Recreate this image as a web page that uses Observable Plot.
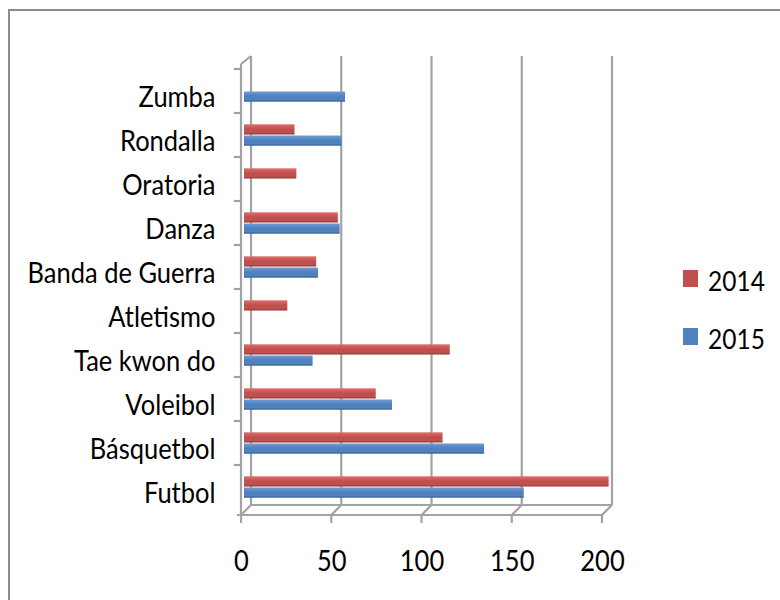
<!DOCTYPE html>
<html><head><meta charset="utf-8">
<script src="https://cdn.jsdelivr.net/npm/d3@7"></script>
<script src="https://cdn.jsdelivr.net/npm/@observablehq/plot@0.6"></script>
<style>
body{margin:0;background:#fff;overflow:hidden;}
#wrap{position:relative;width:780px;height:600px;overflow:hidden;font-family:Lato,"Liberation Sans",Arial,sans-serif;}
#border{position:absolute;left:8px;top:9px;width:820px;height:640px;border-left:2.5px solid #8c8c8c;border-top:2.5px solid #8c8c8c;box-sizing:border-box;}
#chart{position:absolute;left:0;top:0;}
.leg{position:absolute;font-size:24.5px;line-height:1;color:#000;transform:scaleY(1.12);transform-origin:0 0;}
.sw{position:absolute;width:15px;height:17px;}
</style>
</head><body>
<div id="wrap"><div id="border"></div><div id="chart"></div></div>
<script>
const categories = ["Zumba","Rondalla","Oratoria","Danza","Banda de Guerra","Atletismo","Tae kwon do","Voleibol","Básquetbol","Futbol"];
const years = ["2014","2015"];
const values2014 = [null, 28, 29, 52, 40, 24, 114, 73, 110, 202];
const values2015 = [56, 54, null, 53, 41, null, 38, 82, 133, 155];
const xTicks = [0, 50, 100, 150, 200];
const colors = ["#C0504D", "#4F81BD"];

const rows2014 = categories.map((c, i) => ({cat: c, year: years[0], value: values2014[i]})).filter(d => d.value != null);
const rows2015 = categories.map((c, i) => ({cat: c, year: years[1], value: values2015[i]})).filter(d => d.value != null);

const OX = 10, OY = -8;
function frame3d(index, scales, values, dims) {
  const x = scales.x, y = scales.y;
  const top = dims.marginTop, bottom = dims.height - dims.marginBottom;
  const x0 = x(0), xMax = x(xTicks[xTicks.length - 1]);
  const g = d3.create("svg:g").attr("fill", "none").attr("stroke", "#a3a3a3").attr("stroke-width", 2.2);
  const line = (a, b, c, d) => g.append("line").attr("x1", a).attr("y1", b).attr("x2", c).attr("y2", d);
  for (const t of xTicks.slice(1)) line(x(t) + OX, top + OY, x(t) + OX, bottom + OY);
  line(x0 + OX, top + OY, x0 + OX, bottom + OY);
  line(x0, top, x0, bottom + 2);
  line(x0, top, x0 + OX, top + OY);
  for (const c of categories) line(x0 - 7, y(c), x0, y(c));
  line(x0 - 4, bottom + 2, xMax, bottom + 2);
  line(x0 + OX, bottom + OY, xMax + OX, bottom + OY);
  for (const t of xTicks) {
    line(x(t), bottom + 2, x(t) + OX, bottom + OY);
    line(x(t), bottom + 2, x(t), bottom + 10);
  }
  return g.node();
}

const bandInset = 16.9;
const chart = Plot.plot({
  width: 780,
  height: 600,
  marginLeft: 241,
  marginRight: 178,
  marginTop: 64,
  marginBottom: 87,
  style: {fontFamily: 'Lato,"Liberation Sans",Arial,sans-serif', background: "transparent"},
  x: {domain: [0, 200]},
  y: {domain: categories, padding: 0},
  marks: [
    frame3d,
    Plot.barX(rows2014, {x: "value", y: "cat", fill: "url(#g2014)", insetTop: bandInset, insetBottom: bandInset, dy: -5.6, dx: 3}),
    Plot.barX(rows2015, {x: "value", y: "cat", fill: "url(#g2015)", insetTop: bandInset, insetBottom: bandInset, dy: 5.6, dx: 3}),
    Plot.axisX({ticks: xTicks, tickSize: 0, tickPadding: 37, fontSize: 25.5, label: null, tickFormat: d => String(d), fill: "#000"}),
    Plot.axisY({tickSize: 0, tickPadding: 26, fontSize: 25.5, label: null, dy: 6, fill: "#000"})
  ]
});

const svg = d3.select(chart);
// slightly taller glyphs, like the reference's condensed face
svg.selectAll("text").each(function() {
  const tr = this.getAttribute("transform");
  if (tr && tr.includes("translate")) this.setAttribute("transform", tr + " scale(1,1.12)");
});
const defs = svg.insert("defs", ":first-child");
function grad(id, light, base, dark) {
  const lg = defs.append("linearGradient").attr("id", id).attr("x1", 0).attr("y1", 0).attr("x2", 0).attr("y2", 1);
  lg.append("stop").attr("offset", "0%").attr("stop-color", light);
  lg.append("stop").attr("offset", "45%").attr("stop-color", base);
  lg.append("stop").attr("offset", "80%").attr("stop-color", base);
  lg.append("stop").attr("offset", "100%").attr("stop-color", dark);
}
grad("g2014", "#d9716e", colors[0], "#8e3431");
grad("g2015", "#6f9bd3", colors[1], "#345c8c");
document.getElementById("chart").appendChild(chart);

const wrap = document.getElementById("wrap");
const legendY = [270, 328];
years.forEach((yr, i) => {
  const sw = document.createElement("div");
  sw.className = "sw";
  sw.style.left = "683px";
  sw.style.top = legendY[i] + "px";
  sw.style.background = colors[i];
  wrap.appendChild(sw);
  const t = document.createElement("div");
  t.className = "leg";
  t.style.left = "708px";
  t.style.top = (legendY[i] - 3) + "px";
  t.textContent = yr;
  wrap.appendChild(t);
});
</script>
</body></html>
